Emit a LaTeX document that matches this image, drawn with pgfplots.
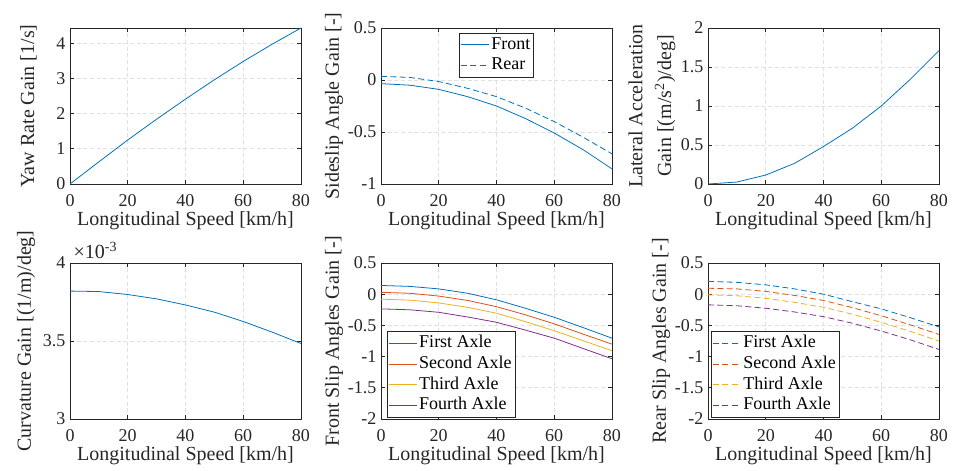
\documentclass[border=0pt]{standalone}
\usepackage{fontspec}
\setmainfont{Liberation Serif}
\usepackage{pgfplots}
\pgfplotsset{compat=1.18}

\definecolor{mblue}{rgb}{0,0.447,0.741}
\definecolor{mred}{rgb}{0.85,0.325,0.098}
\definecolor{myellow}{rgb}{0.929,0.694,0.125}
\definecolor{mpurple}{rgb}{0.494,0.184,0.556}
\definecolor{axgray}{rgb}{0.15,0.15,0.15}

\pgfplotsset{
  base/.style={
    scale only axis, width=173.25pt, height=117pt,
    xmin=0, xmax=80, xtick={0,20,40,60,80},
    xticklabels={0,20,40,60,80},
    grid=major, major grid style={dash pattern=on 3pt off 2pt, color=black!12, line width=0.5pt},
    axis line style={axgray, line width=0.5pt},
    tick style={axgray, line width=0.5pt},
    major tick length=3pt,
    tick label style={font=\fontsize{13.5}{16}\selectfont, text=axgray},
    xticklabel style={yshift=-4pt},
    label style={font=\fontsize{15}{17}\selectfont, text=axgray},
    xlabel={Longitudinal Speed [km/h]},
    xlabel style={yshift=3pt},
    every axis plot/.append style={line width=0.6pt},
    legend style={font=\fontsize{13.5}{16}\selectfont, draw=axgray, line width=0.5pt,
      inner sep=1pt, row sep=0pt,
      nodes={text height=9.5pt, text depth=3pt, inner sep=1.5pt}},
    legend cell align=left,
    legend image code/.code={\draw[##1] (0pt,0pt) -- (21pt,0pt);},
  },
  ylab/.style={ylabel style={at={(axis description cs:#1,0.5)}, anchor=south, inner sep=0pt}},
  dashedm/.style={dash pattern=on 4.5pt off 2.5pt},
}

\begin{document}
\begin{tikzpicture}
\path[use as bounding box] (0,0) rectangle (715.5pt,353.25pt);

% Top-left: yaw rate gain
\begin{axis}[base, at={(52.5pt,215.25pt)}, anchor=south west,
  ymin=0, ymax=4.43, ytick={0,1,2,3,4}, yticklabels={0,1,2,3,4},
  ylabel={Yaw Rate Gain [1/s]}, ylab=-0.143]
\addplot[mblue] coordinates {(0,0) (10,0.63) (20,1.25) (30,1.84) (40,2.41) (50,2.96) (60,3.48) (70,3.97) (80,4.43)};
\end{axis}

% Top-middle: sideslip
\begin{axis}[base, at={(285.75pt,215.25pt)}, anchor=south west,
  ymin=-1, ymax=0.5, ytick={-1,-0.5,0,0.5}, yticklabels={-1,-0.5,0,0.5},
  ylabel={Sideslip Angle Gain [-]}, ylab=-0.163,
  legend style={at={(0.5,0.97)}, anchor=north}]
\addplot[mblue] coordinates {(0,-0.035) (10,-0.05) (20,-0.09) (30,-0.16) (40,-0.25) (50,-0.37) (60,-0.51) (70,-0.67) (80,-0.855)};
\addlegendentry{Front}
\addplot[mblue, dashedm] coordinates {(0,0.035) (10,0.025) (20,-0.015) (30,-0.08) (40,-0.16) (50,-0.27) (60,-0.40) (70,-0.55) (80,-0.71)};
\addlegendentry{Rear}
\end{axis}

% Top-right: lateral acceleration gain
\begin{axis}[base, at={(531pt,215.25pt)}, anchor=south west,
  ymin=0, ymax=2, ytick={0,0.5,1,1.5,2}, yticklabels={0,0.5,1,1.5,2},
  ylabel={Lateral Acceleration\\[4.5pt]Gain [(m/s\textsuperscript{2})/deg]},
  ylab=-0.14, ylabel style={align=center}]
\addplot[mblue] coordinates {(0,0) (10,0.025) (20,0.115) (30,0.265) (40,0.48) (50,0.715) (60,1.0) (70,1.34) (80,1.71)};
\end{axis}

% Bottom-left: curvature gain
\begin{axis}[base, at={(52.5pt,39pt)}, anchor=south west,
  ymin=3, ymax=4, ytick={3,3.5,4}, yticklabels={3,3.5,4},
  ylabel={Curvature Gain [(1/m)/deg]}, ylab=-0.15,
  after end axis/.code={\node[anchor=base west, inner sep=0pt, xshift=2.5pt, yshift=3.5pt, text=axgray,
     font=\fontsize{15}{17}\selectfont] at (rel axis cs:0,1) {×10\textsuperscript{-3}};}]
\addplot[mblue] coordinates {(0,3.82) (10,3.817) (20,3.798) (30,3.77) (40,3.731) (50,3.685) (60,3.625) (70,3.557) (80,3.484)};
\end{axis}

% Bottom-middle: front slip angles
\begin{axis}[base, at={(285.75pt,39pt)}, anchor=south west,
  ymin=-2, ymax=0.5, ytick={-2,-1.5,-1,-0.5,0,0.5}, yticklabels={-2,-1.5,-1,-0.5,0,0.5},
  ylabel={Front Slip Angles Gain [-]}, ylab=-0.163,
  legend style={at={(0.025,0.01)}, anchor=south west}]
\addplot[mblue] coordinates {(0,0.14) (10,0.125) (20,0.085) (30,0.015) (40,-0.09) (50,-0.225) (60,-0.37) (70,-0.535) (80,-0.705)};
\addlegendentry{First Axle}
\addplot[mred] coordinates {(0,0.03) (10,0.015) (20,-0.03) (30,-0.10) (40,-0.2) (50,-0.33) (60,-0.475) (70,-0.64) (80,-0.80)};
\addlegendentry{Second Axle}
\addplot[myellow] coordinates {(0,-0.08) (10,-0.095) (20,-0.14) (30,-0.21) (40,-0.305) (50,-0.44) (60,-0.585) (70,-0.745) (80,-0.905)};
\addlegendentry{Third Axle}
\addplot[mpurple] coordinates {(0,-0.235) (10,-0.25) (20,-0.29) (30,-0.365) (40,-0.45) (50,-0.575) (60,-0.705) (70,-0.87) (80,-1.035)};
\addlegendentry{Fourth Axle}
\end{axis}

% Bottom-right: rear slip angles
\begin{axis}[base, at={(531pt,39pt)}, anchor=south west,
  ymin=-2, ymax=0.5, ytick={-2,-1.5,-1,-0.5,0,0.5}, yticklabels={-2,-1.5,-1,-0.5,0,0.5},
  ylabel={Rear Slip Angles Gain [-]}, ylab=-0.163,
  legend style={at={(0.013,0.01)}, anchor=south west}]
\addplot[mblue, dashedm] coordinates {(0,0.205) (10,0.19) (20,0.15) (30,0.085) (40,0.0) (50,-0.12) (60,-0.235) (70,-0.375) (80,-0.525)};
\addlegendentry{First Axle}
\addplot[mred, dashedm] coordinates {(0,0.095) (10,0.085) (20,0.045) (30,-0.02) (40,-0.1) (50,-0.215) (60,-0.345) (70,-0.49) (80,-0.645)};
\addlegendentry{Second Axle}
\addplot[myellow, dashedm] coordinates {(0,-0.01) (10,-0.025) (20,-0.065) (30,-0.13) (40,-0.21) (50,-0.32) (60,-0.45) (70,-0.595) (80,-0.75)};
\addlegendentry{Third Axle}
\addplot[mpurple, dashedm] coordinates {(0,-0.17) (10,-0.185) (20,-0.225) (30,-0.285) (40,-0.36) (50,-0.465) (60,-0.59) (70,-0.73) (80,-0.885)};
\addlegendentry{Fourth Axle}
\end{axis}
\end{tikzpicture}
\end{document}
